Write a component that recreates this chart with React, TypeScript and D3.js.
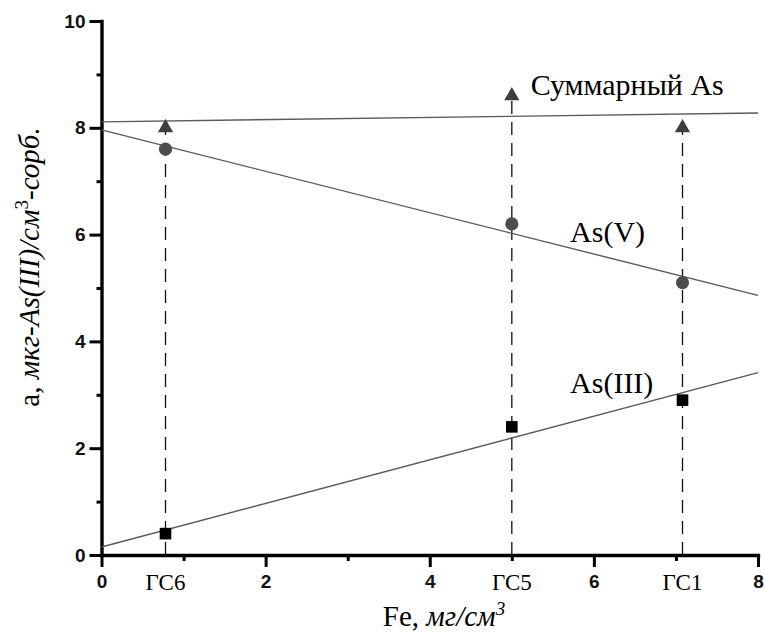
import React, { useEffect, useRef } from 'react';
import * as d3 from 'd3';

// samples (ГС = sorbent) and measured values
const samples = ['ГС6', 'ГС5', 'ГС1'];
const feContent = [0.78, 5.0, 7.08];
const asIII = [0.4, 2.4, 2.9];
const asV = [7.6, 6.2, 5.1];
const asTotal = [8.0, 8.6, 8.0];

const xMajorTicks = [0, 2, 4, 6, 8];
const xMinorTicks = [1, 3, 5, 7];
const yMajorTicks = [0, 2, 4, 6, 8, 10];
const yMinorTicks = [1, 3, 5, 7, 9];

const width = 765;
const height = 635;
const serif = '"Liberation Serif", "Times New Roman", serif';
const sans = '"Liberation Sans", Arial, sans-serif';

// least squares line: returns [slope, intercept]
const linearFit = (xs: number[], ys: number[]) => {
  const mx = d3.mean(xs) as number;
  const my = d3.mean(ys) as number;
  const sxy = d3.sum(xs, (v, i) => (v - mx) * (ys[i] - my));
  const sxx = d3.sum(xs, v => (v - mx) * (v - mx));
  const b = sxy / sxx;
  return [b, my - b * mx];
};

const App = () => {
  const ref = useRef<SVGSVGElement>(null);

  useEffect(() => {
    const svg = d3.select(ref.current);
    svg.selectAll('*').remove();

    const x = d3.scaleLinear().domain([0, 8]).range([101.5, 758]);
    const y = d3.scaleLinear().domain([0, 10]).range([555, 21]);

    // axes
    const styleAxis = (g: any, fontSize: number) => {
      g.attr('font-family', sans).attr('font-size', fontSize).attr('font-weight', 'bold');
      g.select('.domain').attr('stroke', '#000').attr('stroke-width', 3.4).attr('stroke-linecap', 'square');
      g.selectAll('.tick line').attr('stroke', '#000').attr('stroke-width', 3);
      g.selectAll('.tick text').attr('fill', '#111');
    };
    const styleMinor = (g: any) => {
      g.select('.domain').remove();
      g.selectAll('.tick line').attr('stroke', '#000').attr('stroke-width', 3);
    };

    svg.append('g')
      .attr('transform', `translate(0,${y(0)})`)
      .call(d3.axisBottom(x).tickValues(xMinorTicks).tickSize(6).tickSizeOuter(0).tickFormat(() => ''))
      .call(styleMinor);

    svg.append('g')
      .attr('transform', `translate(${x(0)},0)`)
      .call(d3.axisLeft(y).tickValues(yMinorTicks).tickSize(5).tickSizeOuter(0).tickFormat(() => ''))
      .call(styleMinor);

    svg.append('g')
      .attr('transform', `translate(0,${y(0)})`)
      .call(d3.axisBottom(x).tickValues(xMajorTicks).tickSize(12).tickSizeOuter(0).tickPadding(8).tickFormat(d3.format('d')))
      .call((g: any) => styleAxis(g, 19));

    svg.append('g')
      .attr('transform', `translate(${x(0)},0)`)
      .call(d3.axisLeft(y).tickValues(yMajorTicks).tickSize(12).tickSizeOuter(0).tickPadding(4).tickFormat(d3.format('d')))
      .call((g: any) => styleAxis(g, 19));

    // sample names under the axis
    svg.append('g').selectAll('text').data(samples).enter().append('text')
      .attr('x', (d: string, i: number) => x(feContent[i]))
      .attr('y', y(0) + 35)
      .attr('text-anchor', 'middle')
      .attr('font-family', serif)
      .attr('font-size', 23)
      .text((d: string) => d);

    // dashed drop lines
    svg.append('g').selectAll('line').data(samples).enter().append('line')
      .attr('x1', (d: string, i: number) => x(feContent[i]))
      .attr('x2', (d: string, i: number) => x(feContent[i]))
      .attr('y1', y(0))
      .attr('y2', (d: string, i: number) => y(asTotal[i]))
      .attr('stroke', '#111')
      .attr('stroke-width', 1.3)
      .attr('stroke-dasharray', '13 8');

    // regression lines
    const fitLine = d3.line<number[]>().x(d => x(d[0])).y(d => y(d[1]));
    [asTotal, asV, asIII].forEach(series => {
      const [b, a] = linearFit(feContent, series);
      svg.append('path')
        .attr('d', fitLine([[0, a], [8, a + b * 8]]))
        .attr('fill', 'none')
        .attr('stroke', '#5a5a5a')
        .attr('stroke-width', 1.4);
    });

    // markers
    const markers = [
      { values: asTotal, symbol: d3.symbolTriangle, size: 100, color: '#3c3c3c' },
      { values: asV, symbol: d3.symbolCircle, size: 135, color: '#4d4d4d' },
      { values: asIII, symbol: d3.symbolSquare, size: 135, color: '#000' },
    ];
    markers.forEach(m => {
      svg.append('g').selectAll('path').data(m.values).enter().append('path')
        .attr('transform', (d: number, i: number) => `translate(${x(feContent[i])},${y(d)})`)
        .attr('d', d3.symbol(m.symbol, m.size)())
        .attr('fill', m.color);
    });

    // series labels
    const seriesLabels = [
      { text: 'Суммарный As', at: [5.23, 8.61] },
      { text: 'As(V)', at: [5.71, 5.86] },
      { text: 'As(III)', at: [5.71, 3.03] },
    ];
    svg.append('g').selectAll('text').data(seriesLabels).enter().append('text')
      .attr('x', (d: any) => x(d.at[0]))
      .attr('y', (d: any) => y(d.at[1]))
      .attr('font-family', serif)
      .attr('font-size', 30)
      .text((d: any) => d.text);

    // x axis title
    const xt = svg.append('text')
      .attr('x', 444)
      .attr('y', 626)
      .attr('text-anchor', 'middle')
      .attr('font-family', serif)
      .attr('font-size', 29);
    xt.append('tspan').text('Fe, ');
    xt.append('tspan').attr('font-style', 'italic').text('мг/см');
    xt.append('tspan').attr('font-style', 'italic').attr('font-size', 19).attr('dy', -11).text('3');

    // y axis title
    const yt = svg.append('text')
      .attr('transform', 'translate(39,267) rotate(-90)')
      .attr('text-anchor', 'middle')
      .attr('font-family', serif)
      .attr('font-size', 29);
    yt.append('tspan').text('a, ');
    yt.append('tspan').attr('font-style', 'italic').text('мкг-As(III)/см');
    yt.append('tspan').attr('font-size', 19).attr('dy', -11).text('3');
    yt.append('tspan').attr('font-style', 'italic').attr('dy', 11).text('-сорб.');
  }, []);

  return (
    <svg
      ref={ref}
      width={width}
      height={height}
      style={{ position: 'absolute', left: 0, top: 0, background: '#fff' }}
    />
  );
};

export default App;
